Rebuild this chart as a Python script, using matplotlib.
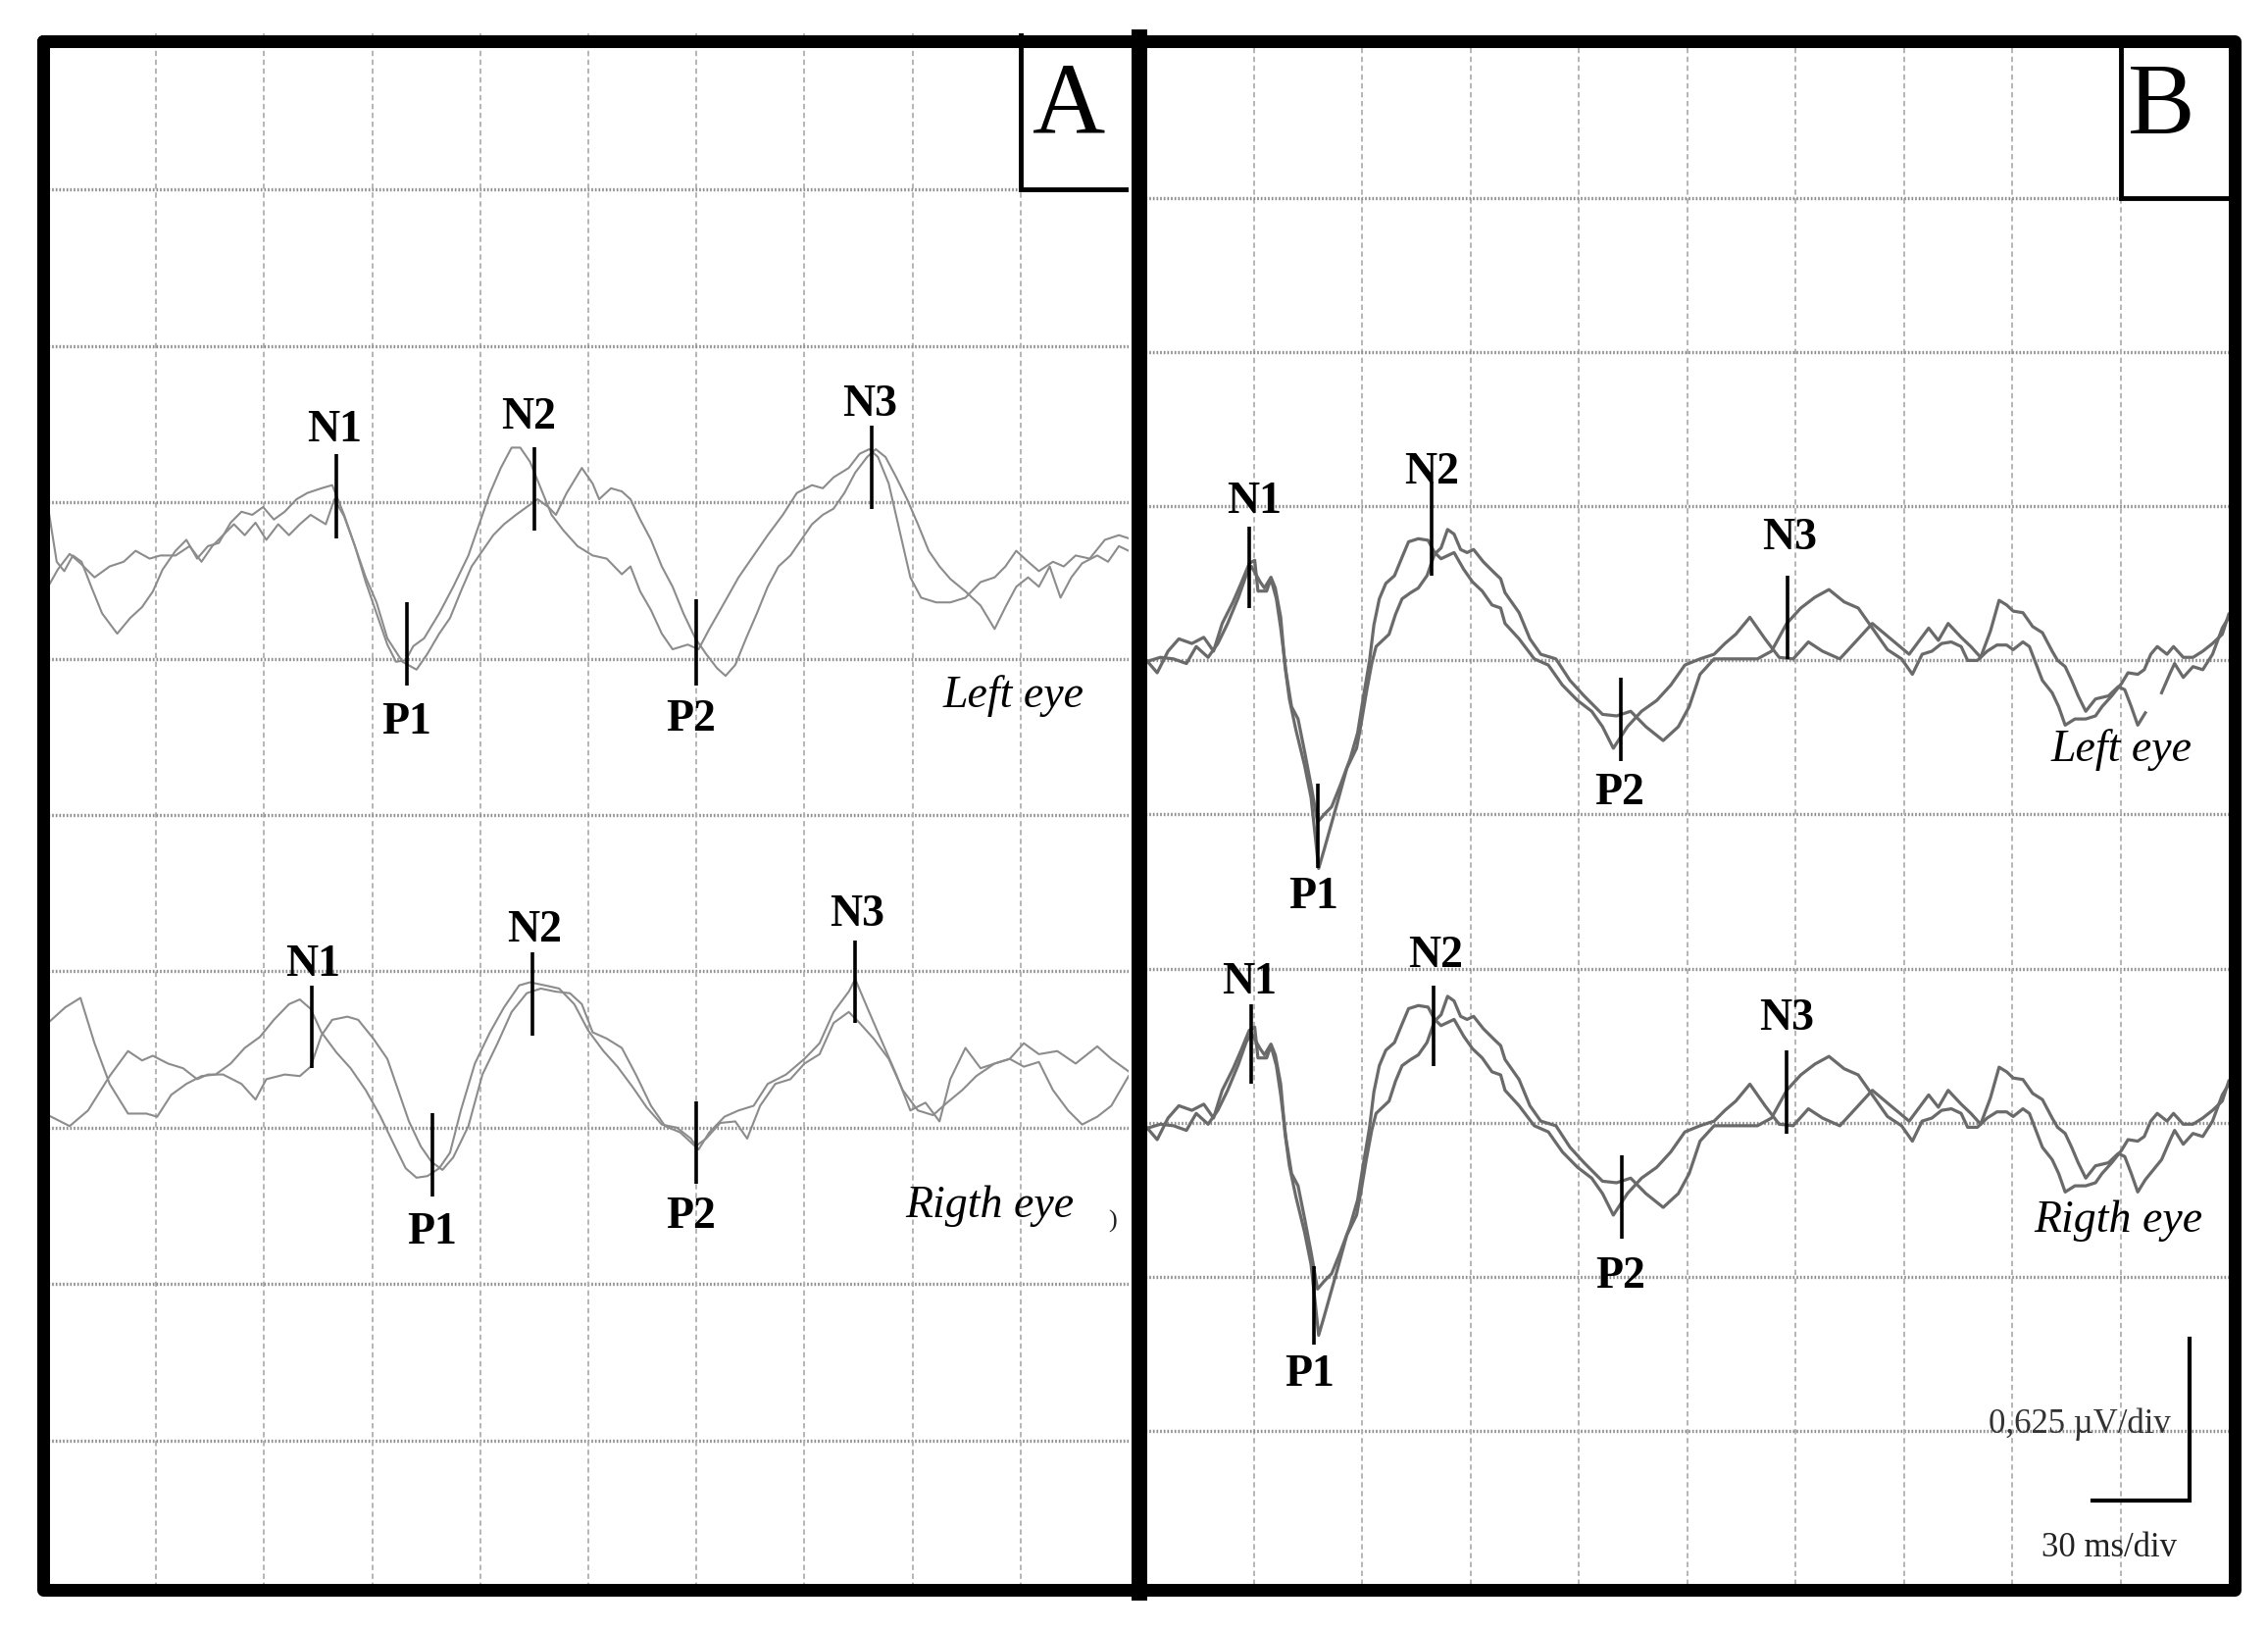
import numpy as np
import matplotlib
matplotlib.use("Agg")
import matplotlib.pyplot as plt
from matplotlib.lines import Line2D

W, H = 2313, 1662

# every value is in screen divisions: x = 30 ms/div, y = 0.625 uV/div (0 at bottom)
# panel A, left eye, two superimposed recordings
a_left_1 = [(0.00, 6.97), (0.08, 6.62), (0.15, 6.56), (0.23, 6.66), (0.31, 6.62), (0.40, 6.46),
            (0.50, 6.29), (0.64, 6.16), (0.76, 6.26), (0.87, 6.33), (0.97, 6.43), (1.06, 6.57),
            (1.18, 6.69), (1.28, 6.76), (1.38, 6.64), (1.48, 6.72), (1.58, 6.74), (1.69, 6.87),
            (1.79, 6.94), (1.89, 6.92), (1.99, 6.97), (2.09, 6.89), (2.19, 6.94), (2.30, 7.02),
            (2.40, 7.06), (2.53, 7.09), (2.63, 7.11), (2.74, 6.92), (2.84, 6.72), (2.94, 6.49),
            (3.04, 6.29), (3.14, 6.09), (3.22, 5.98), (3.31, 5.99), (3.38, 6.08), (3.48, 6.13),
            (3.62, 6.29), (3.75, 6.46), (3.89, 6.66), (3.99, 6.86), (4.09, 7.06), (4.19, 7.22),
            (4.29, 7.35), (4.37, 7.35), (4.46, 7.26), (4.56, 7.09), (4.66, 6.92), (4.77, 6.82),
            (4.90, 6.72), (5.04, 6.66), (5.17, 6.64), (5.31, 6.54), (5.39, 6.59), (5.48, 6.43),
            (5.58, 6.31), (5.68, 6.16), (5.78, 6.06), (5.92, 6.09), (6.02, 6.06), (6.12, 6.19),
            (6.26, 6.36), (6.39, 6.52), (6.53, 6.66), (6.66, 6.79), (6.80, 6.92), (6.93, 7.06),
            (7.07, 7.11), (7.17, 7.09), (7.27, 7.16), (7.41, 7.22), (7.51, 7.31), (7.60, 7.34),
            (7.68, 7.29), (7.78, 7.12), (7.88, 6.82), (7.98, 6.52), (8.08, 6.39), (8.22, 6.36),
            (8.35, 6.36), (8.49, 6.39), (8.63, 6.49), (8.76, 6.52), (8.86, 6.59), (8.96, 6.69),
            (9.07, 6.62), (9.17, 6.56), (9.30, 6.62), (9.40, 6.59), (9.51, 6.66), (9.64, 6.64),
            (9.78, 6.76), (9.91, 6.79), (10.0, 6.77)]
a_left_2 = [(0.00, 6.46), (0.09, 6.57), (0.20, 6.67), (0.30, 6.61), (0.43, 6.52), (0.57, 6.59),
            (0.70, 6.62), (0.81, 6.69), (0.94, 6.64), (1.04, 6.66), (1.18, 6.66), (1.31, 6.72),
            (1.42, 6.62), (1.52, 6.72), (1.62, 6.79), (1.72, 6.86), (1.82, 6.79), (1.92, 6.87),
            (2.02, 6.76), (2.13, 6.86), (2.23, 6.79), (2.33, 6.86), (2.43, 6.92), (2.57, 6.86),
            (2.65, 7.02), (2.74, 6.91), (2.84, 6.72), (2.94, 6.52), (3.04, 6.36), (3.14, 6.13),
            (3.28, 5.98), (3.41, 5.93), (3.51, 6.03), (3.62, 6.16), (3.72, 6.26), (3.82, 6.43),
            (3.92, 6.59), (4.02, 6.69), (4.12, 6.79), (4.22, 6.86), (4.33, 6.92), (4.43, 6.97),
            (4.53, 7.02), (4.63, 6.97), (4.70, 6.92), (4.80, 7.06), (4.94, 7.22), (5.04, 7.12),
            (5.10, 7.02), (5.21, 7.09), (5.31, 7.07), (5.39, 7.02), (5.48, 6.89), (5.58, 6.76),
            (5.68, 6.59), (5.78, 6.46), (5.88, 6.29), (5.99, 6.13), (6.09, 6.03), (6.19, 5.94),
            (6.27, 5.89), (6.36, 5.96), (6.46, 6.13), (6.56, 6.29), (6.66, 6.46), (6.76, 6.59),
            (6.87, 6.66), (6.97, 6.76), (7.07, 6.86), (7.17, 6.92), (7.27, 6.96), (7.37, 7.06),
            (7.47, 7.19), (7.58, 7.29), (7.66, 7.34), (7.75, 7.29), (7.85, 7.16), (7.95, 7.02),
            (8.05, 6.86), (8.15, 6.69), (8.25, 6.59), (8.35, 6.51), (8.49, 6.43), (8.63, 6.34),
            (8.76, 6.19), (8.86, 6.33), (8.96, 6.46), (9.07, 6.52), (9.17, 6.46), (9.27, 6.59),
            (9.37, 6.39), (9.47, 6.52), (9.57, 6.61), (9.71, 6.66), (9.81, 6.62), (9.91, 6.72),
            (10.0, 6.69)]

# panel A, right eye
a_right_1 = [(0.00, 3.67), (0.16, 3.77), (0.30, 3.83), (0.43, 3.54), (0.57, 3.28), (0.74, 3.09),
             (0.91, 3.09), (1.01, 3.07), (1.14, 3.21), (1.28, 3.28), (1.42, 3.33), (1.55, 3.34),
             (1.69, 3.41), (1.82, 3.51), (1.96, 3.58), (2.09, 3.69), (2.23, 3.79), (2.33, 3.82),
             (2.43, 3.76), (2.53, 3.61), (2.67, 3.48), (2.80, 3.38), (2.94, 3.24), (3.07, 3.08),
             (3.21, 2.88), (3.31, 2.74), (3.41, 2.68), (3.51, 2.69), (3.62, 2.74), (3.72, 2.84),
             (3.82, 3.11), (3.95, 3.41), (4.09, 3.61), (4.22, 3.77), (4.36, 3.91), (4.46, 3.93),
             (4.60, 3.91), (4.73, 3.89), (4.87, 3.79), (5.00, 3.62), (5.14, 3.49), (5.27, 3.39),
             (5.41, 3.26), (5.54, 3.13), (5.68, 3.02), (5.82, 3.00), (5.95, 2.93), (6.02, 2.86),
             (6.12, 2.97), (6.26, 3.07), (6.39, 3.11), (6.53, 3.14), (6.66, 3.28), (6.83, 3.34),
             (7.00, 3.44), (7.14, 3.54), (7.27, 3.74), (7.41, 3.87), (7.47, 3.95), (7.58, 3.77),
             (7.68, 3.61), (7.85, 3.34), (7.98, 3.11), (8.12, 3.16), (8.25, 3.04), (8.35, 3.31),
             (8.49, 3.51), (8.63, 3.38), (8.76, 3.41), (8.90, 3.44), (9.03, 3.54), (9.17, 3.47),
             (9.34, 3.49), (9.51, 3.41), (9.71, 3.52), (9.84, 3.44), (10.0, 3.36)]
a_right_2 = [(0.00, 3.08), (0.20, 3.01), (0.37, 3.11), (0.57, 3.33), (0.74, 3.49), (0.87, 3.43),
             (0.97, 3.46), (1.11, 3.41), (1.25, 3.38), (1.38, 3.31), (1.48, 3.34), (1.62, 3.34),
             (1.79, 3.28), (1.92, 3.18), (2.02, 3.31), (2.19, 3.34), (2.33, 3.33), (2.43, 3.39),
             (2.53, 3.59), (2.63, 3.69), (2.77, 3.71), (2.87, 3.69), (3.01, 3.57), (3.14, 3.44),
             (3.24, 3.24), (3.34, 3.04), (3.45, 2.88), (3.55, 2.78), (3.65, 2.73), (3.75, 2.81),
             (3.89, 3.01), (4.02, 3.34), (4.16, 3.54), (4.29, 3.74), (4.43, 3.86), (4.56, 3.89),
             (4.70, 3.87), (4.83, 3.86), (4.94, 3.79), (5.04, 3.61), (5.17, 3.57), (5.31, 3.51),
             (5.44, 3.34), (5.58, 3.14), (5.71, 3.01), (5.85, 2.97), (5.99, 2.88), (6.09, 2.93),
             (6.22, 3.03), (6.36, 3.04), (6.47, 2.93), (6.59, 3.14), (6.73, 3.28), (6.87, 3.31),
             (7.00, 3.41), (7.14, 3.47), (7.27, 3.67), (7.41, 3.74), (7.51, 3.67), (7.64, 3.57),
             (7.78, 3.44), (7.91, 3.24), (8.05, 3.11), (8.19, 3.08), (8.32, 3.16), (8.46, 3.24),
             (8.59, 3.33), (8.76, 3.41), (8.90, 3.44), (9.03, 3.39), (9.17, 3.42), (9.30, 3.24),
             (9.44, 3.11), (9.57, 3.02), (9.71, 3.07), (9.84, 3.14), (10.0, 3.33)]

# panel B, left eye (trace 1 has a short gap near the label)
b_left_1 = [(0.00, 6.01), (0.11, 5.92), (0.21, 6.06), (0.31, 6.14), (0.43, 6.11), (0.54, 6.15),
            (0.63, 6.06), (0.71, 6.24), (0.81, 6.38), (0.89, 6.51), (0.96, 6.63), (1.01, 6.65),
            (1.04, 6.45), (1.12, 6.45), (1.16, 6.53), (1.21, 6.40), (1.25, 6.21), (1.30, 5.92),
            (1.35, 5.70), (1.41, 5.62), (1.47, 5.41), (1.53, 5.19), (1.59, 4.95), (1.65, 5.00),
            (1.72, 5.05), (1.80, 5.19), (1.89, 5.36), (1.96, 5.53), (2.01, 5.75), (2.07, 6.00),
            (2.11, 6.23), (2.16, 6.40), (2.22, 6.50), (2.30, 6.55), (2.37, 6.67), (2.43, 6.77),
            (2.52, 6.79), (2.61, 6.78), (2.67, 6.70), (2.73, 6.66), (2.85, 6.70), (2.94, 6.59),
            (3.02, 6.51), (3.11, 6.45), (3.20, 6.36), (3.28, 6.34), (3.32, 6.24), (3.45, 6.14),
            (3.59, 6.01), (3.72, 5.97), (3.85, 5.84), (3.99, 5.74), (4.12, 5.67), (4.22, 5.57),
            (4.32, 5.43), (4.45, 5.57), (4.58, 5.67), (4.72, 5.74), (4.85, 5.84), (4.98, 5.97),
            (5.12, 6.01), (5.25, 6.04), (5.35, 6.11), (5.45, 6.17), (5.58, 6.28), (5.72, 6.14),
            (5.85, 6.02), (5.98, 6.01), (6.12, 6.12), (6.25, 6.06), (6.41, 6.01), (6.58, 6.14),
            (6.71, 6.24), (6.88, 6.14), (7.05, 6.04), (7.23, 6.21), (7.32, 6.13), (7.41, 6.24),
            (7.53, 6.15), (7.62, 6.09), (7.71, 6.02), (7.80, 6.19), (7.88, 6.39), (7.95, 6.36),
            (8.01, 6.32), (8.10, 6.31), (8.19, 6.22), (8.28, 6.18), (8.37, 6.06), (8.42, 6.00),
            (8.49, 5.96), (8.55, 5.87), (8.61, 5.77), (8.68, 5.67), (8.77, 5.75), (8.89, 5.77),
            (8.98, 5.83), (9.04, 5.81), (9.10, 5.70), (9.16, 5.58), (9.23, 5.66), (np.nan, np.nan),
            (9.38, 5.79), (9.46, 5.92), (9.50, 5.98), (9.58, 5.89), (9.67, 5.96), (9.76, 5.94),
            (9.85, 6.04), (9.94, 6.21), (10.0, 6.28)]
b_left_2 = [(0.00, 5.99), (0.14, 6.02), (0.26, 6.01), (0.38, 5.98), (0.47, 6.09), (0.58, 6.02),
            (0.67, 6.11), (0.76, 6.24), (0.86, 6.41), (0.93, 6.55), (0.98, 6.61), (1.06, 6.51),
            (1.10, 6.47), (1.16, 6.54), (1.20, 6.47), (1.25, 6.28), (1.29, 5.96), (1.33, 5.75),
            (1.39, 5.55), (1.47, 5.32), (1.53, 5.11), (1.57, 4.85), (1.60, 4.65), (1.65, 4.77),
            (1.71, 4.92), (1.77, 5.07), (1.86, 5.30), (1.95, 5.43), (1.99, 5.58), (2.04, 5.79),
            (2.09, 5.98), (2.13, 6.09), (2.19, 6.13), (2.25, 6.17), (2.31, 6.30), (2.37, 6.40),
            (2.45, 6.44), (2.52, 6.47), (2.60, 6.55), (2.67, 6.69), (2.73, 6.73), (2.79, 6.85),
            (2.85, 6.82), (2.91, 6.72), (2.97, 6.70), (3.03, 6.72), (3.12, 6.64), (3.22, 6.57),
            (3.28, 6.53), (3.32, 6.44), (3.45, 6.31), (3.55, 6.14), (3.65, 6.04), (3.79, 6.01),
            (3.92, 5.87), (4.05, 5.77), (4.22, 5.65), (4.35, 5.64), (4.48, 5.67), (4.62, 5.57),
            (4.78, 5.48), (4.92, 5.57), (5.02, 5.70), (5.12, 5.91), (5.25, 6.01), (5.45, 6.01),
            (5.65, 6.01), (5.78, 6.06), (5.92, 6.24), (6.05, 6.34), (6.18, 6.41), (6.31, 6.46),
            (6.45, 6.38), (6.58, 6.34), (6.71, 6.21), (6.85, 6.07), (6.98, 6.01), (7.08, 5.91),
            (7.17, 6.04), (7.26, 6.06), (7.35, 6.11), (7.44, 6.12), (7.53, 6.09), (7.59, 6.00),
            (7.68, 6.00), (7.77, 6.06), (7.86, 6.10), (7.95, 6.10), (8.01, 6.07), (8.10, 6.12),
            (8.16, 6.09), (8.22, 5.98), (8.28, 5.87), (8.37, 5.79), (8.43, 5.70), (8.49, 5.58),
            (8.58, 5.62), (8.68, 5.62), (8.77, 5.64), (8.83, 5.70), (8.92, 5.77), (9.01, 5.85),
            (9.07, 5.92), (9.16, 5.91), (9.22, 5.94), (9.28, 6.04), (9.34, 6.09), (9.43, 6.04),
            (9.49, 6.09), (9.58, 6.02), (9.67, 6.02), (9.76, 6.06), (9.85, 6.11), (9.94, 6.17),
            (10.0, 6.30)]

# panel B, right eye
b_right_1 = [(0.00, 2.98), (0.11, 2.89), (0.21, 3.03), (0.31, 3.11), (0.43, 3.08), (0.54, 3.12),
             (0.63, 3.03), (0.71, 3.21), (0.81, 3.35), (0.89, 3.48), (0.96, 3.60), (1.01, 3.62),
             (1.04, 3.42), (1.12, 3.42), (1.16, 3.50), (1.21, 3.37), (1.25, 3.18), (1.30, 2.89),
             (1.35, 2.67), (1.41, 2.59), (1.47, 2.38), (1.53, 2.16), (1.59, 1.92), (1.65, 1.97),
             (1.72, 2.02), (1.80, 2.16), (1.89, 2.33), (1.96, 2.50), (2.01, 2.72), (2.07, 2.97),
             (2.11, 3.20), (2.16, 3.37), (2.22, 3.47), (2.30, 3.52), (2.37, 3.64), (2.43, 3.74),
             (2.52, 3.76), (2.61, 3.75), (2.67, 3.67), (2.73, 3.63), (2.85, 3.67), (2.94, 3.56),
             (3.02, 3.48), (3.11, 3.42), (3.20, 3.33), (3.28, 3.31), (3.32, 3.21), (3.45, 3.11),
             (3.59, 2.98), (3.72, 2.94), (3.85, 2.81), (3.99, 2.71), (4.12, 2.64), (4.22, 2.54),
             (4.32, 2.40), (4.45, 2.54), (4.58, 2.64), (4.72, 2.71), (4.85, 2.81), (4.98, 2.94),
             (5.12, 2.98), (5.25, 3.01), (5.35, 3.08), (5.45, 3.14), (5.58, 3.25), (5.72, 3.11),
             (5.85, 2.99), (5.98, 2.98), (6.12, 3.09), (6.25, 3.03), (6.41, 2.98), (6.58, 3.11),
             (6.71, 3.21), (6.88, 3.11), (7.05, 3.01), (7.23, 3.18), (7.32, 3.10), (7.41, 3.21),
             (7.53, 3.12), (7.62, 3.06), (7.71, 2.99), (7.80, 3.16), (7.88, 3.36), (7.95, 3.33),
             (8.01, 3.29), (8.10, 3.28), (8.19, 3.19), (8.28, 3.15), (8.37, 3.03), (8.42, 2.97),
             (8.49, 2.93), (8.55, 2.84), (8.61, 2.74), (8.68, 2.64), (8.77, 2.72), (8.89, 2.74),
             (8.98, 2.80), (9.04, 2.78), (9.10, 2.67), (9.16, 2.55), (9.23, 2.63), (9.38, 2.76),
             (9.46, 2.89), (9.50, 2.95), (9.58, 2.86), (9.67, 2.93), (9.76, 2.91), (9.85, 3.01),
             (9.94, 3.18), (10.0, 3.25)]
b_right_2 = [(0.00, 2.96), (0.14, 2.99), (0.26, 2.98), (0.38, 2.95), (0.47, 3.06), (0.58, 2.99),
             (0.67, 3.08), (0.76, 3.21), (0.86, 3.38), (0.93, 3.52), (0.98, 3.58), (1.06, 3.48),
             (1.10, 3.44), (1.16, 3.51), (1.20, 3.44), (1.25, 3.25), (1.29, 2.93), (1.33, 2.72),
             (1.39, 2.52), (1.47, 2.29), (1.53, 2.08), (1.57, 1.82), (1.60, 1.62), (1.65, 1.74),
             (1.71, 1.89), (1.77, 2.04), (1.86, 2.27), (1.95, 2.40), (1.99, 2.55), (2.04, 2.76),
             (2.09, 2.95), (2.13, 3.06), (2.19, 3.10), (2.25, 3.14), (2.31, 3.27), (2.37, 3.37),
             (2.45, 3.41), (2.52, 3.44), (2.60, 3.52), (2.67, 3.66), (2.73, 3.70), (2.79, 3.82),
             (2.85, 3.79), (2.91, 3.69), (2.97, 3.67), (3.03, 3.69), (3.12, 3.61), (3.22, 3.54),
             (3.28, 3.50), (3.32, 3.41), (3.45, 3.28), (3.55, 3.11), (3.65, 3.01), (3.79, 2.98),
             (3.92, 2.84), (4.05, 2.74), (4.22, 2.62), (4.35, 2.61), (4.48, 2.64), (4.62, 2.54),
             (4.78, 2.45), (4.92, 2.54), (5.02, 2.67), (5.12, 2.88), (5.25, 2.98), (5.45, 2.98),
             (5.65, 2.98), (5.78, 3.03), (5.92, 3.21), (6.05, 3.31), (6.18, 3.38), (6.31, 3.43),
             (6.45, 3.35), (6.58, 3.31), (6.71, 3.18), (6.85, 3.04), (6.98, 2.98), (7.08, 2.88),
             (7.17, 3.01), (7.26, 3.03), (7.35, 3.08), (7.44, 3.09), (7.53, 3.06), (7.59, 2.97),
             (7.68, 2.97), (7.77, 3.03), (7.86, 3.07), (7.95, 3.07), (8.01, 3.04), (8.10, 3.09),
             (8.16, 3.06), (8.22, 2.95), (8.28, 2.84), (8.37, 2.76), (8.43, 2.67), (8.49, 2.55),
             (8.58, 2.59), (8.68, 2.59), (8.77, 2.61), (8.83, 2.67), (8.92, 2.74), (9.01, 2.82),
             (9.07, 2.89), (9.16, 2.88), (9.22, 2.91), (9.28, 3.01), (9.34, 3.06), (9.43, 3.01),
             (9.49, 3.06), (9.58, 2.99), (9.67, 2.99), (9.76, 3.03), (9.85, 3.08), (9.94, 3.14),
             (10.0, 3.27)]

# peak markers: tick x, tick bottom, tick top, label x, label y
peak_names = ["N1", "P1", "N2", "P2", "N3"]
a_left_peaks = [(2.67, 6.77, 7.31, 2.65, 7.46), (3.32, 5.83, 6.36, 3.32, 5.59),
                (4.50, 6.82, 7.35, 4.45, 7.54), (6.00, 5.83, 6.38, 5.95, 5.61),
                (7.62, 6.96, 7.49, 7.61, 7.62)]
a_right_peaks = [(2.44, 3.38, 3.91, 2.45, 4.04), (3.56, 2.56, 3.09, 3.55, 2.33),
                 (4.48, 3.59, 4.12, 4.50, 4.26), (6.00, 2.64, 3.17, 5.95, 2.43),
                 (7.47, 3.67, 4.20, 7.49, 4.36)]
b_left_peaks = [(0.96, 6.34, 6.87, 1.01, 7.03), (1.59, 4.65, 5.20, 1.55, 4.46),
                (2.64, 6.55, 7.16, 2.64, 7.22), (4.39, 5.35, 5.89, 4.38, 5.14),
                (5.93, 6.01, 6.55, 5.95, 6.79)]
b_right_peaks = [(0.98, 3.25, 3.77, 0.96, 3.91), (1.56, 1.56, 2.07, 1.52, 1.36),
                 (2.66, 3.37, 3.89, 2.68, 4.08), (4.40, 2.25, 2.79, 4.39, 2.00),
                 (5.92, 2.93, 3.47, 5.92, 3.67)]

plt.rcParams['font.family'] = ['Liberation Serif', 'DejaVu Serif']

fig = plt.figure(figsize=(W / 100, H / 100), dpi=100)
fig.patch.set_facecolor('white')

ax_a = fig.add_axes([49 / W, 34 / H, 1102 / W, 1594 / H])
ax_b = fig.add_axes([1168 / W, 46 / H, 1105 / W, 1571 / H])


def setup_grid(ax):
    ax.set_xlim(0, 10)
    ax.set_ylim(0, 10)
    ax.axis('off')
    for k in range(1, 10):
        ax.axvline(k, color='#b0b0b0', lw=1.3, ls=(0, (3, 2)), zorder=1)
        ax.axhline(k, color='#8e8e8e', lw=2.4, ls=(0, (0.5, 0.6)), zorder=1)


def draw_trace(ax, pts, color, lw):
    x, y = np.array(pts).T
    ax.plot(x, y, color=color, lw=lw, zorder=3, solid_joinstyle='round')


def draw_peaks(ax, peaks):
    for name, (tx, lo, hi, lx, ly) in zip(peak_names, peaks):
        ax.vlines(tx, lo, hi, color='black', lw=2.6, zorder=5)
        ax.text(lx, ly, name, ha='center', va='center', fontsize=33,
                fontweight='bold', zorder=6)


setup_grid(ax_a)
setup_grid(ax_b)

for tr in (a_left_1, a_left_2, a_right_1, a_right_2):
    draw_trace(ax_a, tr, '#8c8c8c', 1.5)
for tr in (b_left_1, b_left_2, b_right_1, b_right_2):
    draw_trace(ax_b, tr, '#6a6a6a', 2.3)

draw_peaks(ax_a, a_left_peaks)
draw_peaks(ax_a, a_right_peaks)
draw_peaks(ax_b, b_left_peaks)
draw_peaks(ax_b, b_right_peaks)

eye_kw = dict(ha='center', va='center', fontsize=33, style='italic', zorder=6)
ax_a.text(8.93, 5.76, 'Left eye', **eye_kw)
ax_a.text(8.71, 2.50, 'Rigth eye', **eye_kw)
ax_b.text(9.01, 5.42, 'Left eye', **eye_kw)
ax_b.text(8.98, 2.36, 'Rigth eye', **eye_kw)
ax_a.text(9.85, 2.40, ')', ha='center', va='center', fontsize=19, color='#222222')

# panel letter boxes in the top-right cell
for ax, letter, lx, ly in ((ax_a, 'A', 9.45, 9.52), (ax_b, 'B', 9.38, 9.58)):
    ax.plot([9, 9, 10], [10, 9, 9], color='black', lw=3.5, zorder=6,
            solid_joinstyle='miter')
    ax.text(lx, ly, letter, ha='center', va='center', fontsize=74, zorder=7)

# calibration bar
ax_b.plot([8.74, 9.64, 9.64], [0.55, 0.55, 1.60], color='black', lw=3.0, zorder=6,
          solid_joinstyle='miter')
ax_b.text(8.62, 1.04, '0,625 µV/div', ha='center', va='center', fontsize=25,
          color='#333333', zorder=7)
ax_b.text(8.90, 0.24, '30 ms/div', ha='center', va='center', fontsize=25,
          color='#222222', zorder=7)


# thick outer frame and divider, given in figure pixels
def fx(px):
    return px / W


def fy(py):
    return 1 - py / H


frame = Line2D([fx(43.5), fx(2279), fx(2279), fx(43.5), fx(43.5)],
               [fy(41.5), fy(41.5), fy(1621), fy(1621), fy(41.5)],
               transform=fig.transFigure, color='black', lw=13 * 0.72,
               solid_joinstyle='round', solid_capstyle='round', zorder=10)
fig.add_artist(frame)
divider = Line2D([fx(1162), fx(1162)], [fy(30), fy(1632)], transform=fig.transFigure,
                 color='black', lw=16 * 0.72, solid_capstyle='butt', zorder=10)
fig.add_artist(divider)

fig.savefig('out.png', dpi=100, facecolor='white')
